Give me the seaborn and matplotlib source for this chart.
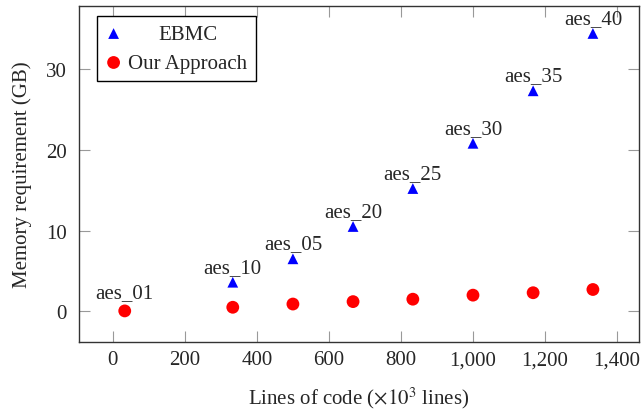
import numpy as np
import pandas as pd
import matplotlib
matplotlib.use('Agg')
import matplotlib.pyplot as plt
import matplotlib.ticker as mticker
from matplotlib.transforms import Affine2D
import seaborn as sns

# ================= DATA =================
ebmc_loc = [333, 500, 667, 833, 1000, 1167, 1333]
ebmc_mem = [3.6, 6.5, 10.5, 15.2, 20.8, 27.3, 34.4]
ebmc_names = ['aes_10', 'aes_05', 'aes_20', 'aes_25', 'aes_30', 'aes_35', 'aes_40']

ours_loc = [33, 333, 500, 667, 833, 1000, 1167, 1333]
ours_mem = [0.05, 0.5, 0.9, 1.2, 1.5, 2.0, 2.3, 2.7]
ours_names = ['aes_01', '', '', '', '', '', '', '']

df_ebmc = pd.DataFrame({'loc': ebmc_loc, 'mem': ebmc_mem, 'name': ebmc_names})
df_ours = pd.DataFrame({'loc': ours_loc, 'mem': ours_mem, 'name': ours_names})

# ================= STYLE =================
sns.set_style('ticks')
plt.rcParams['font.family'] = ['Liberation Serif', 'DejaVu Serif']
plt.rcParams['mathtext.fontset'] = 'stix'
FS = 15

fig = plt.figure(figsize=(6.42, 4.14), dpi=100)
ax = fig.add_axes([79 / 642, 1 - 343 / 414, 560 / 642, 336 / 414])

sns.scatterplot(data=df_ebmc, x='loc', y='mem', marker='^', color='#0000ff',
                s=60, edgecolor='none', label='EBMC', ax=ax, zorder=3)
sns.scatterplot(data=df_ours, x='loc', y='mem', marker='o', color='#ff0000',
                s=85, edgecolor='none', label='Our Approach', ax=ax, zorder=3)

# labels near coords
for _, r in df_ebmc.iterrows():
    ax.annotate(r['name'], (r['loc'], r['mem']), xytext=(0, 4), textcoords='offset points',
                ha='center', va='bottom', fontsize=FS)
for _, r in df_ours.iterrows():
    if r['name']:
        ax.annotate(r['name'], (r['loc'], r['mem']), xytext=(0, 6), textcoords='offset points',
                    ha='center', va='bottom', fontsize=FS)

ax.set_xlim(-94, 1461)
ax.set_ylim(-3.8, 37.8)
ax.set_xticks(np.arange(0, 1401, 200))
ax.set_yticks([0, 10, 20, 30])
ax.xaxis.set_major_formatter(mticker.FuncFormatter(lambda v, p: f'{int(v):,}'))

ax.tick_params(axis='both', which='major', direction='in', length=8, width=0.8,
               color='#999999', labelsize=FS, top=True, right=True)
ax.tick_params(axis='x', pad=6)
ax.tick_params(axis='y', pad=9)
for sp in ax.spines.values():
    sp.set_visible(True)
    sp.set_color('#333333')
    sp.set_linewidth(1.0)

ax.set_xlabel(r'Lines of code ($\times 10^3$ lines)', fontsize=FS, labelpad=11)
ax.set_ylabel('Memory requirement (GB)', fontsize=FS, labelpad=10)

leg = ax.legend(loc='upper left', bbox_to_anchor=(0.032, 0.97), borderaxespad=0,
                fontsize=FS, frameon=True, fancybox=False, edgecolor='black',
                framealpha=1, handlelength=0.8, handletextpad=0.3,
                labelspacing=0.45, borderpad=0.4)
leg.get_frame().set_linewidth(1.0)

# center legend texts in their column like pgfplots
fig.canvas.draw()
rend = fig.canvas.get_renderer()
texts = leg.get_texts()
widths = [t.get_window_extent(rend).width for t in texts]
wmax = max(widths)
for t, w in zip(texts, widths):
    t.set_transform(t.get_transform() + Affine2D().translate((wmax - w) / 2, 0))

fig.savefig('out.png', dpi=100)
